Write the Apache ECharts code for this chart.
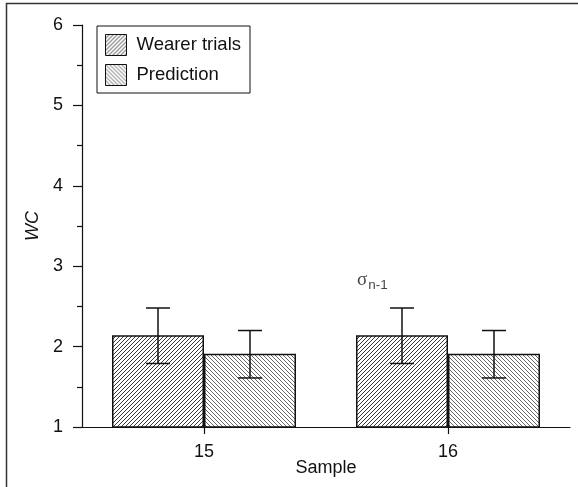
<!DOCTYPE html>
<html><head><meta charset="utf-8">
<script src="https://cdn.jsdelivr.net/npm/echarts@6/dist/echarts.min.js"></script>
<style>html,body{margin:0;padding:0;background:#fff}#c{width:578px;height:487px}</style>
</head><body><div id="c"></div>
<script>
const categories = ['15', '16'];
const seriesNames = ['Wearer trials', 'Prediction'];
const wearerMean = [2.14, 2.14];
const wearerLow = [1.79, 1.79];
const wearerHigh = [2.48, 2.48];
const predMean = [1.91, 1.91];
const predLow = [1.61, 1.61];
const predHigh = [2.20, 2.20];
const yTicks = [1, 2, 3, 4, 5, 6];
const sigmaPos = ['16', 2.83];

function hatch(dir, color) {
  const c = document.createElement('canvas');
  const s = 4;
  c.width = s; c.height = s;
  const g = c.getContext('2d');
  g.fillStyle = '#fff'; g.fillRect(0, 0, s, s);
  g.strokeStyle = color; g.lineWidth = 1;
  g.beginPath();
  if (dir === '/') {
    g.moveTo(-1, s + 1); g.lineTo(s + 1, -1);
    g.moveTo(-1, 1); g.lineTo(1, -1);
    g.moveTo(s - 1, s + 1); g.lineTo(s + 1, s - 1);
  } else {
    g.moveTo(-1, -1); g.lineTo(s + 1, s + 1);
    g.moveTo(s - 1, -1); g.lineTo(s + 1, 1);
    g.moveTo(-1, s - 1); g.lineTo(1, s + 1);
  }
  g.stroke();
  return c;
}
const patW = { image: hatch('/', '#3a3a3a'), repeat: 'repeat' };
const patP = { image: hatch('\\', '#6a6a6a'), repeat: 'repeat' };

const BAR_FRAC = 0.377;
function errRender(sign) {
  return function (params, api) {
    const idx = api.value(0);
    const lo = api.coord([idx, api.value(1)]);
    const hi = api.coord([idx, api.value(2)]);
    const band = api.size([1, 0])[0];
    const x = lo[0] + sign * band * BAR_FRAC / 2;
    const cap = 12;
    const st = { stroke: '#111', lineWidth: 1.5 };
    return { type: 'group', children: [
      { type: 'line', shape: { x1: x, y1: lo[1], x2: x, y2: hi[1] }, style: st },
      { type: 'line', shape: { x1: x - cap, y1: lo[1], x2: x + cap, y2: lo[1] }, style: st },
      { type: 'line', shape: { x1: x - cap, y1: hi[1], x2: x + cap, y2: hi[1] }, style: st }
    ]};
  };
}

const font = 'Liberation Sans, Arial, Helvetica, sans-serif';
const chart = echarts.init(document.getElementById('c'), null, { renderer: 'canvas' });
chart.setOption({
  animation: false,
  backgroundColor: '#fff',
  textStyle: { fontFamily: font, color: '#111' },
  graphic: [{ type: 'rect', shape: { x: 6.5, y: 3.5, width: 700, height: 700 }, style: { fill: 'none', stroke: '#333', lineWidth: 1.5 }, silent: true }],
  grid: { left: 82, right: 8, top: 25, bottom: 60, containLabel: false },
  legend: {
    orient: 'vertical', left: 97, top: 26,
    data: seriesNames,
    backgroundColor: '#fff',
    borderColor: '#111', borderWidth: 1, borderRadius: 0,
    padding: [8, 9, 7, 8],
    itemWidth: 21, itemHeight: 21, itemGap: 8,
    icon: 'rect',
    itemStyle: { borderColor: '#111', borderWidth: 1 },
    textStyle: { fontSize: 18.5, color: '#111', fontFamily: font, padding: [0, 0, 0, 5] }
  },
  xAxis: {
    type: 'category', data: categories,
    name: 'Sample', nameLocation: 'middle', nameGap: 32, nameMoveOverlap: false,
    nameTextStyle: { fontSize: 18, color: '#111', fontFamily: font },
    axisLine: { lineStyle: { color: '#111', width: 1.2 } },
    axisTick: { show: true, alignWithLabel: true, length: 7, lineStyle: { color: '#111', width: 1.2 } },
    axisLabel: { fontSize: 18, color: '#111', margin: 16, fontFamily: font },
    splitLine: { show: false }
  },
  yAxis: {
    type: 'value', min: yTicks[0], max: yTicks[yTicks.length - 1], interval: 1,
    name: 'WC', nameLocation: 'middle', nameGap: 40, nameMoveOverlap: false,
    nameTextStyle: { fontSize: 18, fontStyle: 'italic', color: '#111', fontFamily: font },
    axisLine: { show: true, lineStyle: { color: '#111', width: 1.2 } },
    axisTick: { show: true, length: 9, lineStyle: { color: '#111', width: 1.2 } },
    minorTick: { show: true, splitNumber: 2, length: 5, lineStyle: { color: '#111', width: 1.2 } },
    axisLabel: { fontSize: 18, color: '#111', margin: 19, fontFamily: font },
    splitLine: { show: false }
  },
  series: [
    { name: seriesNames[0], type: 'bar', data: wearerMean, barWidth: (BAR_FRAC * 100) + '%', barGap: '0%',
      itemStyle: { color: patW, borderColor: '#111', borderWidth: 1.5 } },
    { name: seriesNames[1], type: 'bar', data: predMean, barWidth: (BAR_FRAC * 100) + '%', barGap: '0%',
      itemStyle: { color: patP, borderColor: '#111', borderWidth: 1.5 } },
    { type: 'custom', renderItem: errRender(-1), z: 5,
      data: categories.map((c, i) => [i, wearerLow[i], wearerHigh[i]]) },
    { type: 'custom', renderItem: errRender(1), z: 5,
      data: categories.map((c, i) => [i, predLow[i], predHigh[i]]) },
    { type: 'scatter', symbolSize: 0, silent: true, z: 6,
      data: [sigmaPos],
      label: { show: true, position: 'inside', align: 'left', offset: [-91, 0],
        formatter: '{s|σ}{sub|n-1}',
        rich: {
          s: { fontSize: 19, fontFamily: 'Liberation Serif, Times New Roman, serif', color: '#111' },
          sub: { fontSize: 13.5, fontFamily: font, color: '#111', padding: [10, 0, 0, 1] }
        } } }
  ]
});
</script></body></html>
